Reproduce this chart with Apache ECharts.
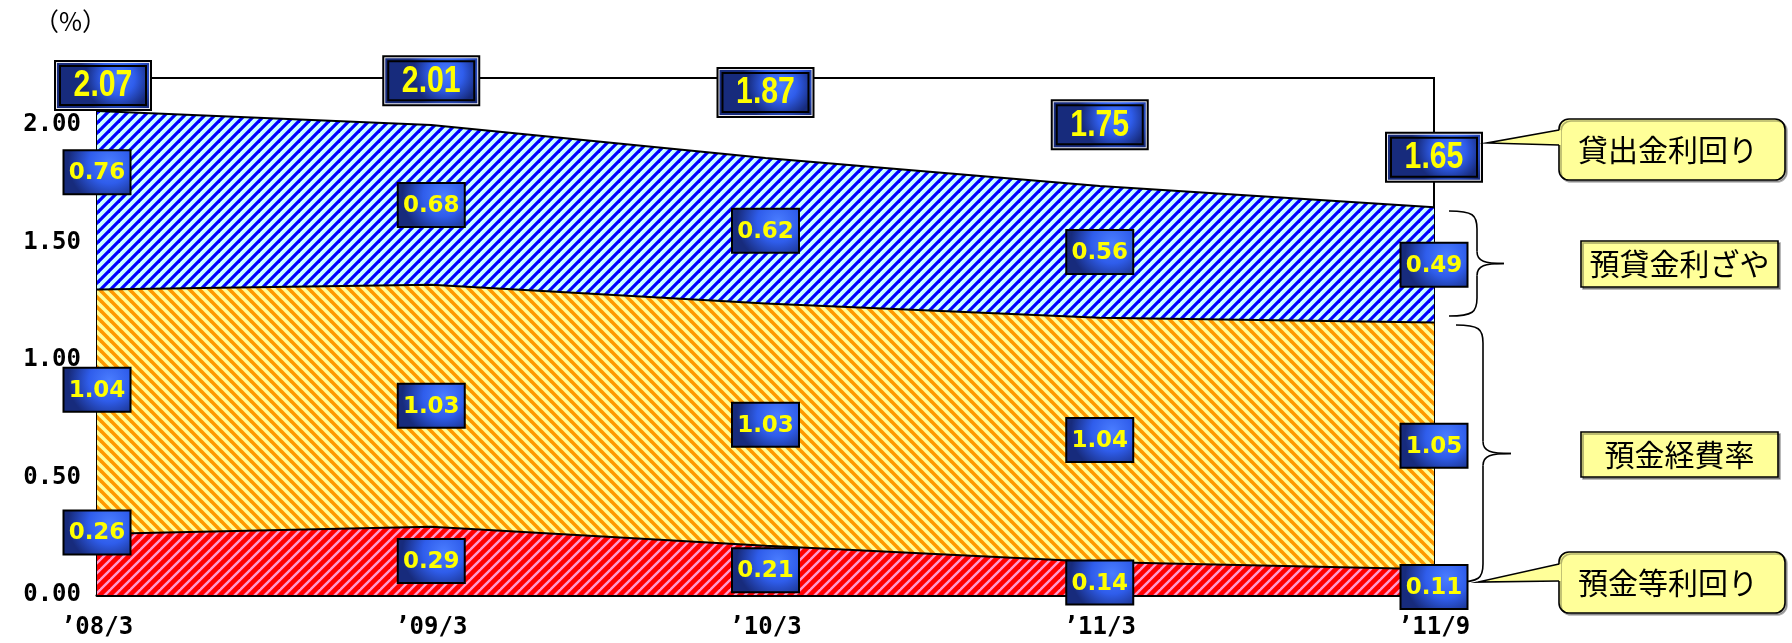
<!DOCTYPE html>
<html><head><meta charset="utf-8">
<script src="https://cdn.jsdelivr.net/npm/echarts@6/dist/echarts.min.js"></script>
<style>html,body{margin:0;padding:0;background:#fff}#c{width:1792px;height:643px}</style>
</head><body><div id="c"></div>
<script>
// ---- data ----
const categories = ['’08/3', '’09/3', '’10/3', '’11/3', '’11/9'];
const depositYield = [0.26, 0.29, 0.21, 0.14, 0.11];      // 預金等利回り
const expenseRatio = [1.04, 1.03, 1.03, 1.04, 1.05];      // 預金経費率
const loanDepositSpread = [0.76, 0.68, 0.62, 0.56, 0.49]; // 預貸金利ざや
const loanYield = [2.07, 2.01, 1.87, 1.75, 1.65];         // 貸出金利回り
const seriesNames = ['預金等利回り', '預金経費率', '預貸金利ざや', '貸出金利回り'];

// ---- layout (pixel shifts of value boxes) ----
const depositShift = [-32, 0, 0, 4, 5];
const expenseShift = [-22, 0, 0, 0, 0];
const spreadShift = [-28, 0, 0, 0, 0];
const totalShiftY = [-23, -42, -63, -59, -50];
const totalShiftX = [6, 0, 0, 0, 0];

function stripe(bg, fg, dir, w) {
  const s = 10, c = document.createElement('canvas');
  c.width = c.height = s;
  const g = c.getContext('2d');
  g.fillStyle = bg; g.fillRect(0, 0, s, s);
  g.strokeStyle = fg; g.lineWidth = w;
  for (let k = -1; k <= 1; k++) {
    g.beginPath();
    if (dir === '/') { g.moveTo(s * (k + 1) + 5, -5); g.lineTo(s * k - 5, s + 5); }
    else { g.moveTo(s * k - 5, -5); g.lineTo(s * k + s + 5, s + 5); }
    g.stroke();
  }
  return { image: c, repeat: 'repeat' };
}

const smallGrad = () => new echarts.graphic.RadialGradient(0.68, 0.3, 0.9, [
  { offset: 0, color: '#4a7dff' }, { offset: 0.5, color: '#2f5deb' }, { offset: 1, color: '#172b7c' }]);

// label data built from the arrays
const labelData = [];
for (let i = 0; i < categories.length; i++) {
  const d = depositYield[i], e = expenseRatio[i], s = loanDepositSpread[i];
  labelData.push([i, d / 2, d, depositShift[i], 0, 0]);
  labelData.push([i, d + e / 2, e, expenseShift[i], 0, 0]);
  labelData.push([i, d + e + s / 2, s, spreadShift[i], 0, 0]);
  labelData.push([i, loanYield[i], loanYield[i], totalShiftY[i], totalShiftX[i], 1]);
}

function renderLabel(params, api) {
  const p = api.coord([api.value(0), api.value(1)]);
  const v = api.value(2), big = api.value(5) === 1;
  const cx = p[0] + api.value(4), cy = p[1] + api.value(3);
  const txt = v.toFixed(2);
  if (!big) {
    const w = 67, h = 44;
    return { type: 'group', children: [
      { type: 'rect', shape: { x: cx - w / 2, y: cy - h / 2, width: w, height: h },
        style: { fill: smallGrad(), stroke: '#000', lineWidth: 2 } },
      { type: 'text', x: cx, y: cy + 1, style: { text: txt, x: 0, y: 0, fill: '#ffff00',
        font: 'bold 23px "DejaVu Sans"', align: 'center', verticalAlign: 'middle',
        textAlign: 'center', textVerticalAlign: 'middle' } }
    ]};
  }
  const w = 98, h = 51, x = cx - w / 2, y = cy - h / 2;
  return { type: 'group', children: [
    { type: 'rect', shape: { x: x, y: y, width: w, height: h }, style: { fill: '#000' } },
    { type: 'rect', shape: { x: x + 2, y: y + 2, width: w - 4, height: h - 4 }, style: { fill: '#e6e6ee' } },
    { type: 'rect', shape: { x: x + 3, y: y + 3, width: w - 6, height: h - 6 }, style: { fill: smallGrad() } },
    { type: 'rect', shape: { x: x + 5, y: y + 5, width: w - 10, height: h - 10 }, style: { fill: '#000' } },
    { type: 'rect', shape: { x: x + 7, y: y + 7, width: w - 14, height: h - 14 }, style: { fill: smallGrad() } },
    { type: 'text', x: cx, y: cy + 1, scaleX: 0.84, style: { text: txt, x: 0, y: 0, fill: '#ffff00',
      font: 'bold 36px "Liberation Sans"', align: 'center', verticalAlign: 'middle',
      textAlign: 'center', textVerticalAlign: 'middle' } }
  ]};
}

function brace(x0, x1, tip, top, bottom) {
  const mid = (top + bottom) / 2, st = { stroke: '#000', lineWidth: 1.6, fill: null };
  return [
    { type: 'bezierCurve', shape: { x1: x0, y1: top, cpx1: x1 - 4, cpy1: top, cpx2: x1, cpy2: top + 4, x2: x1, y2: top + 18 }, style: st },
    { type: 'line', shape: { x1: x1, y1: top + 18, x2: x1, y2: mid - 12 }, style: st },
    { type: 'bezierCurve', shape: { x1: x1, y1: mid - 12, cpx1: x1, cpy1: mid - 2, cpx2: x1 + 8, cpy2: mid, x2: tip, y2: mid }, style: st },
    { type: 'bezierCurve', shape: { x1: tip, y1: mid, cpx1: x1 + 8, cpy1: mid, cpx2: x1, cpy2: mid + 2, x2: x1, y2: mid + 12 }, style: st },
    { type: 'line', shape: { x1: x1, y1: mid + 12, x2: x1, y2: bottom - 18 }, style: st },
    { type: 'bezierCurve', shape: { x1: x1, y1: bottom - 18, cpx1: x1, cpy1: bottom - 4, cpx2: x1 - 4, cpy2: bottom, x2: x0, y2: bottom }, style: st }
  ];
}

const labelFont = '30px "Noto Sans CJK JP"';
function textEl(t, x, y) {
  return { type: 'text', z: 10, style: { text: t, x: x, y: y, font: labelFont, fill: '#000',
    align: 'center', verticalAlign: 'middle', textAlign: 'center', textVerticalAlign: 'middle' } };
}
function callout(x, y, w, h, baseTop, baseBot, tipX, tipY, t) {
  return [
    { type: 'rect', z: 9, shape: { x: x, y: y, width: w, height: h, r: 10 },
      style: { fill: '#ffff99', stroke: '#000', lineWidth: 1.6, shadowColor: 'rgba(0,0,0,0.3)', shadowOffsetX: 2, shadowOffsetY: 2 } },
    { type: 'polygon', z: 9, shape: { points: [[x + 2, baseTop], [tipX, tipY], [x + 2, baseBot]] }, style: { fill: '#ffff99' } },
    { type: 'polyline', z: 9, shape: { points: [[x, baseTop], [tipX, tipY], [x, baseBot]] }, style: { stroke: '#000', lineWidth: 1.6, fill: null } },
    textEl(t, x + w / 2 - 4, y + h / 2)
  ];
}
function boxLabel(x, y, w, h, t) {
  return [
    { type: 'rect', z: 9, shape: { x: x, y: y, width: w, height: h },
      style: { fill: '#ffff99', stroke: '#000', lineWidth: 1.6, shadowColor: 'rgba(0,0,0,0.35)', shadowOffsetX: 2, shadowOffsetY: 2 } },
    textEl(t, x + w / 2, y + h / 2)
  ];
}

const chart = echarts.init(document.getElementById('c'), null, { renderer: 'canvas' });
const areaLine = { color: '#000', width: 2 };
chart.setOption({
  animation: false,
  grid: { left: 97, right: 358, top: 78, bottom: 48, show: true, borderColor: '#000', borderWidth: 2, backgroundColor: 'transparent' },
  xAxis: {
    type: 'category', data: categories, boundaryGap: false,
    axisLine: { lineStyle: { color: '#000', width: 3 } },
    axisTick: { inside: true, length: 8, lineStyle: { color: '#000', width: 2 } },
    axisLabel: { color: '#000', fontFamily: 'DejaVu Sans Mono', fontWeight: 'bold', fontSize: 24, margin: 21 },
    splitLine: { show: false }
  },
  yAxis: {
    type: 'value', min: 0, max: 2.2, interval: 0.5,
    axisLine: { show: true, lineStyle: { color: '#000', width: 3 } },
    axisTick: { show: true, inside: true, length: 8, lineStyle: { color: '#000', width: 2 } },
    axisLabel: { color: '#000', fontFamily: 'DejaVu Sans Mono', fontWeight: 'bold', fontSize: 24, margin: 16,
      showMaxLabel: false, formatter: v => (Math.abs(v / 0.5 - Math.round(v / 0.5)) < 1e-6 ? v.toFixed(2) : '') },
    splitLine: { show: false }
  },
  series: [
    { name: seriesNames[0], type: 'line', stack: 'r', data: depositYield, symbol: 'none', lineStyle: areaLine,
      areaStyle: { color: stripe('#ff0000', '#ff99cc', '/', 2.4), opacity: 1 }, z: 2 },
    { name: seriesNames[1], type: 'line', stack: 'r', data: expenseRatio, symbol: 'none', lineStyle: areaLine,
      areaStyle: { color: stripe('#ffff99', '#ff9900', '\\', 3.6), opacity: 1 }, z: 2 },
    { name: seriesNames[2], type: 'line', stack: 'r', data: loanDepositSpread, symbol: 'none', lineStyle: areaLine,
      areaStyle: { color: stripe('#ccffff', '#0000ff', '/', 3.2), opacity: 1 }, z: 2 },
    { name: seriesNames[3], type: 'custom', data: labelData, renderItem: renderLabel, clip: false, z: 5,
      encode: { x: 0, y: 1 } }
  ],
  graphic: [
    { type: 'text', style: { text: '（%）', x: 34, y: 21, font: '25px "Noto Sans CJK JP"', fill: '#000',
      verticalAlign: 'middle', textVerticalAlign: 'middle' } },
    ...brace(1449, 1477, 1504, 211, 316),
    ...brace(1456, 1483, 1511, 325, 582),
    ...callout(1559, 119, 226, 61, 130, 145, 1487, 143, seriesNames[3]),
    ...boxLabel(1581, 241, 197, 46, seriesNames[2]),
    ...boxLabel(1581, 432, 197, 45, seriesNames[1]),
    ...callout(1559, 552, 226, 61, 564, 581, 1478, 582, seriesNames[0])
  ]
});
</script></body></html>
